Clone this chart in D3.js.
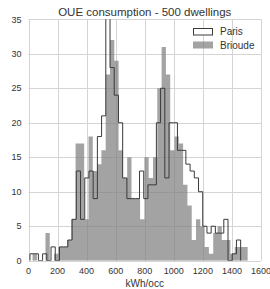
<!DOCTYPE html>
<html>
<head>
<meta charset="utf-8">
<script src="https://cdn.jsdelivr.net/npm/d3@7"></script>
<style>
  body { margin: 0; background: #fff; }
  svg { display: block; font-family: "Liberation Sans", Arial, sans-serif; }
</style>
</head>
<body>
<div id="chart"></div>
<script>
const title = 'OUE consumption - 500 dwellings';
const xLabel = 'kWh/occ';
const xTicks = [0, 200, 400, 600, 800, 1000, 1200, 1400, 1600];
const yTicks = [0, 5, 10, 15, 20, 25, 30, 35];

// histogram bins (kWh/occ), 50 bins each
const brioudeStart = 28;
const brioudeWidth = 29.6;
const brioudeCounts = [
    1, 0, 0, 4, 0, 1, 2, 2, 3, 6,
    17, 17, 6, 18, 13, 14, 16, 27, 32, 29,
    16, 12, 15, 9, 9, 6, 15, 12, 15, 25,
    31, 27, 16, 18, 17, 11, 8, 3, 6, 5,
    2, 1, 4, 5, 3, 3, 1, 2, 2, 2
];
const parisStart = 10;
const parisWidth = 29;
const parisCounts = [
    1, 1, 0, 1, 0, 2, 0, 2, 2, 3,
    6, 13, 6, 12, 13, 9, 18, 21, 38, 28,
    24, 20, 12, 9, 9, 9, 13, 9, 11, 11,
    20, 25, 12, 20, 20, 16, 16, 14, 13, 12,
    10, 5, 4, 5, 4, 4, 6, 0, 1, 3
];

const width = 270, height = 289;
const margin = { top: 19.3, right: 9, bottom: 28.3, left: 28.5 };

const svg = d3.select('#chart')
    .append('svg')
    .attr('width', width)
    .attr('height', height);

const x = d3.scaleLinear().domain([0, 1600]).range([margin.left, width - margin.right]);
const y = d3.scaleLinear().domain([0, 35]).range([height - margin.bottom, margin.top]);

const gridColor = '#d4d4d4';
const textColor = '#333';
const barColor = '#808080';

// grid
svg.append('g')
    .selectAll('line')
    .data(xTicks)
    .join('line')
    .attr('x1', d => Math.round(x(d)) + 0.5).attr('x2', d => Math.round(x(d)) + 0.5)
    .attr('y1', y(0)).attr('y2', y(35))
    .attr('stroke', gridColor);

svg.append('g')
    .selectAll('line')
    .data(yTicks)
    .join('line')
    .attr('x1', x(0)).attr('x2', x(1600))
    .attr('y1', d => Math.round(y(d)) + 0.5).attr('y2', d => Math.round(y(d)) + 0.5)
    .attr('stroke', gridColor);

svg.append('clipPath').attr('id', 'plot')
    .append('rect')
    .attr('x', x(0)).attr('y', y(35))
    .attr('width', x(1600) - x(0)).attr('height', y(0) - y(35));

const plot = svg.append('g').attr('clip-path', 'url(#plot)');

// turn counts into step points
function stepPoints(start, w, counts) {
    const pts = [[start, 0]];
    counts.forEach((c, i) => {
        pts.push([start + i * w, c]);
        pts.push([start + (i + 1) * w, c]);
    });
    pts.push([start + counts.length * w, 0]);
    return pts;
}

const line = d3.line().x(d => x(d[0])).y(d => y(d[1]));

// Brioude - filled histogram (one shape so there are no seams)
plot.append('path')
    .datum(stepPoints(brioudeStart, brioudeWidth, brioudeCounts))
    .attr('d', d => line(d) + 'Z')
    .attr('fill', barColor)
    .attr('fill-opacity', 0.72);

// Paris - step outline
plot.append('path')
    .datum(stepPoints(parisStart, parisWidth, parisCounts))
    .attr('d', line)
    .attr('fill', 'none')
    .attr('stroke', '#3a3a3a')
    .attr('stroke-width', 1);

// tick labels
svg.append('g')
    .selectAll('text')
    .data(xTicks)
    .join('text')
    .attr('x', d => x(d))
    .attr('y', y(0) + 13)
    .attr('text-anchor', 'middle')
    .attr('font-size', 9)
    .attr('fill', textColor)
    .text(d => d);

svg.append('g')
    .selectAll('text')
    .data(yTicks)
    .join('text')
    .attr('x', x(0) - 7)
    .attr('y', d => y(d) + 3.2)
    .attr('text-anchor', 'end')
    .attr('font-size', 9)
    .attr('fill', textColor)
    .text(d => d);

svg.append('text')
    .attr('x', (x(0) + x(1600)) / 2)
    .attr('y', height - 2.5)
    .attr('text-anchor', 'middle')
    .attr('font-size', 10)
    .attr('fill', textColor)
    .text(xLabel);

svg.append('text')
    .attr('x', (x(0) + x(1600)) / 2)
    .attr('y', 15.5)
    .attr('text-anchor', 'middle')
    .attr('font-size', 11.5)
    .attr('fill', textColor)
    .text(title);

// legend
const legend = svg.append('g').attr('transform', `translate(${x(1600) - 68},28)`);
legend.append('rect')
    .attr('x', 0.5).attr('y', 0.5).attr('width', 19).attr('height', 6.5)
    .attr('fill', '#fff').attr('stroke', '#3a3a3a');
legend.append('text')
    .attr('x', 27).attr('y', 7).attr('font-size', 10).attr('fill', textColor)
    .text('Paris');
legend.append('rect')
    .attr('x', 0).attr('y', 13.5).attr('width', 20).attr('height', 7)
    .attr('fill', barColor).attr('fill-opacity', 0.72);
legend.append('text')
    .attr('x', 27).attr('y', 20.5).attr('font-size', 10).attr('fill', textColor)
    .text('Brioude');
</script>
</body>
</html>
